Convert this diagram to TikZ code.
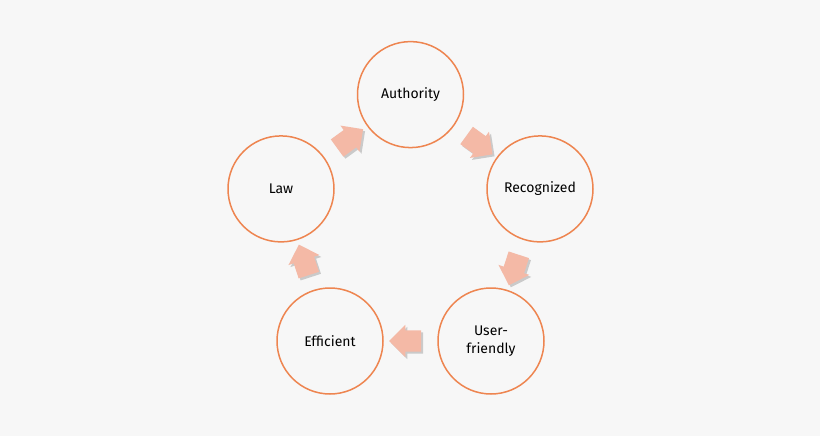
\documentclass[tikz,border=0pt]{standalone}
\usepackage{fontspec}
\setmainfont{Fira Sans}
\usetikzlibrary{shapes.arrows,calc}
\definecolor{bg}{HTML}{F7F7F7}
\definecolor{ring}{HTML}{EE8550}
\definecolor{arrowfill}{HTML}{F4B9A6}
\tikzset{
  stage/.style={circle, draw=ring, line width=1.5pt, fill=bg, minimum size=106pt, inner sep=0pt, align=center, font=\fontsize{14}{17.5}\selectfont, text=black},
  blockarrow/.style={single arrow, fill=arrowfill, draw=none, minimum height=30pt, minimum width=32pt, inner sep=10.5pt, single arrow head extend=5.5pt, single arrow tip angle=90},
  blockshadow/.style={blockarrow, fill=black, opacity=0.18}
}
\begin{document}
\begin{tikzpicture}[x=1pt,y=-1pt]
\fill[bg] (0,0) rectangle (820,436);
\useasboundingbox (0,0) rectangle (820,436);
\node[stage] (auth) at (410.5,94.6) {Authority};
\node[stage] (rec) at (540,188.9) {Recognized};
\node[stage] (user) at (491,341) {User-\\friendly};
\node[stage] (eff) at (330,341) {Efficient};
\node[stage] (law) at (281,188.9) {Law};
% shadows
\node[blockshadow, rotate=-36] (s1) at ($($(auth)!0.5!(rec)$)+(2,2)$) {};
\node[blockshadow, rotate=-108] (s2) at ($($(rec)!0.5!(user)$)+(2,2)$) {};
\node[blockshadow, rotate=180] (s3) at ($($(user)!0.5!(eff)$)+(2,2)$) {};
\node[blockshadow, rotate=108] (s4) at ($($(eff)!0.5!(law)$)+(2,2)$) {};
\node[blockshadow, rotate=36] (s5) at ($($(law)!0.5!(auth)$)+(2,2)$) {};
% arrows
\node[blockarrow, rotate=-36] (a1) at ($(auth)!0.5!(rec)$) {};
\node[blockarrow, rotate=-108] (a2) at ($(rec)!0.5!(user)$) {};
\node[blockarrow, rotate=180] (a3) at ($(user)!0.5!(eff)$) {};
\node[blockarrow, rotate=108] (a4) at ($(eff)!0.5!(law)$) {};
\node[blockarrow, rotate=36] (a5) at ($(law)!0.5!(auth)$) {};
\end{tikzpicture}
\end{document}
